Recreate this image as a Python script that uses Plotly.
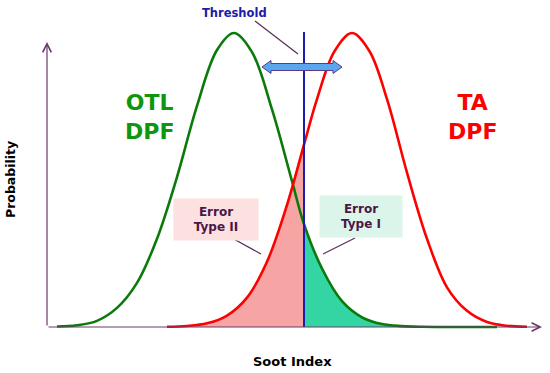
import plotly.graph_objects as go

# --- Data (x: soot index in arbitrary units, y: relative probability) ---
GREEN_X = [2, 6, 10, 14, 18, 22, 26, 30, 34, 37.4, 41, 45, 49, 51.4, 55, 59, 63, 67, 71, 75, 80, 85, 90]
GREEN_Y = [0.0015, 0.006, 0.021, 0.065, 0.15, 0.30, 0.51, 0.752, 0.942, 1.0, 0.935, 0.74, 0.496,
           0.35, 0.199, 0.088, 0.033, 0.01, 0.003, 0.0007, 0.0001, 0.0, 0.0]

RED_X = [24, 28, 32, 36, 40, 44, 48, 51.4, 54, 57.5, 61, 64.5, 68, 72, 76, 80, 84, 88, 92, 96]
RED_Y = [0.0008, 0.0034, 0.0125, 0.039, 0.1, 0.222, 0.415, 0.62, 0.775, 0.938, 1.0, 0.938,
         0.775, 0.525, 0.3, 0.135, 0.055, 0.017, 0.004, 0.001]

THRESHOLD = 51.4

# --- Styling ---
FONT = "DejaVu Sans"
AXIS_COLOR = "#6b3a6b"
GREEN = "#0b7a0b"
RED = "#ff0000"
TEXT_PURPLE = "#4a1646"

W, H = 550, 373


# pixel -> data helpers (plot area fills the whole figure)
def px(x):
    return (x - 47) / 5.0


def py(y):
    return (327 - y) / 294.0


fig = go.Figure()

# shaded error areas
pink_idx = [i for i, v in enumerate(RED_X) if v <= THRESHOLD]
fig.add_trace(go.Scatter(
    x=[RED_X[i] for i in pink_idx], y=[RED_Y[i] for i in pink_idx],
    mode="lines", line=dict(width=0, shape="spline"), fill="tozeroy",
    fillcolor="#f7a4a4", hoverinfo="skip", showlegend=False))
green_idx = [i for i, v in enumerate(GREEN_X) if v >= THRESHOLD]
fig.add_trace(go.Scatter(
    x=[GREEN_X[i] for i in green_idx], y=[GREEN_Y[i] for i in green_idx],
    mode="lines", line=dict(width=0, shape="spline"), fill="tozeroy",
    fillcolor="#33d6a2", hoverinfo="skip", showlegend=False))

# distributions
fig.add_trace(go.Scatter(x=GREEN_X, y=GREEN_Y, mode="lines",
                         line=dict(color=GREEN, width=2.6, shape="spline"), showlegend=False))
fig.add_trace(go.Scatter(x=RED_X, y=RED_Y, mode="lines",
                         line=dict(color=RED, width=2.6, shape="spline"), showlegend=False))

shapes = []
# threshold line
shapes.append(dict(type="line", x0=THRESHOLD, x1=THRESHOLD, y0=0, y1=py(32),
                   line=dict(color="#1c1cae", width=2)))
# double arrow
arrow_pts = [(262, 67), (271, 60.5), (271, 63.5), (333, 63.5), (333, 60.5), (342, 67),
             (333, 73.5), (333, 70.5), (271, 70.5), (271, 73.5)]
path = "M " + " L ".join(f"{px(a)},{py(b)}" for a, b in arrow_pts) + " Z"
shapes.append(dict(type="path", path=path, fillcolor="#5aa6ef",
                   line=dict(color="#5a3a8a", width=1)))
# connector lines
for (x0, y0, x1, y1) in [(255, 21, 298, 54), (232, 238, 261, 254), (355, 238, 323, 254)]:
    shapes.append(dict(type="line", x0=px(x0), y0=py(y0), x1=px(x1), y1=py(y1),
                       line=dict(color="#5a2a5a", width=1.2)))

annotations = []
# axes with arrowheads
annotations.append(dict(x=px(47), y=py(42), ax=px(47), ay=py(327), xref="x", yref="y",
                        axref="x", ayref="y", showarrow=True, arrowhead=5, arrowsize=1.4,
                        arrowwidth=1.2, arrowcolor=AXIS_COLOR, text=""))
annotations.append(dict(x=px(542), y=py(327), ax=px(47), ay=py(327), xref="x", yref="y",
                        axref="x", ayref="y", showarrow=True, arrowhead=5, arrowsize=1.4,
                        arrowwidth=1.2, arrowcolor=AXIS_COLOR, text=""))


def label(text, x, y, size, color, **kw):
    annotations.append(dict(text=text, x=px(x), y=py(y), xref="x", yref="y", showarrow=False,
                            font=dict(family=FONT, size=size, color=color), **kw))


label("<b>Threshold</b>", 234, 13, 11.5, "#1c1ca6")
label("<b>OTL<br>DPF</b>", 149, 117, 22, "#0e960e")
label("<b>TA<br>DPF</b>", 472, 117, 22, RED)
label("<b>Error<br>Type II</b>", 216, 219, 12, TEXT_PURPLE,
      bgcolor="#fde0e0", width=82, height=39)
label("<b>Error<br>Type I</b>", 361, 216, 12, TEXT_PURPLE,
      bgcolor="#dcf5ea", width=80, height=39)
label("<b>Probability</b>", 10, 180, 12.5, "#000000", textangle=-90)
label("<b>Soot Index</b>", 292, 361, 13, "#000000")

fig.update_layout(
    width=W, height=H,
    margin=dict(l=0, r=0, t=0, b=0),
    plot_bgcolor="white", paper_bgcolor="white",
    xaxis=dict(range=[px(0), px(W)], visible=False, fixedrange=True),
    yaxis=dict(range=[py(H), py(0)], visible=False, fixedrange=True),
    shapes=shapes,
    annotations=annotations,
    showlegend=False,
)

fig.write_html("out.html", config={"displayModeBar": False},
               post_script="document.body.style.margin='0';")
